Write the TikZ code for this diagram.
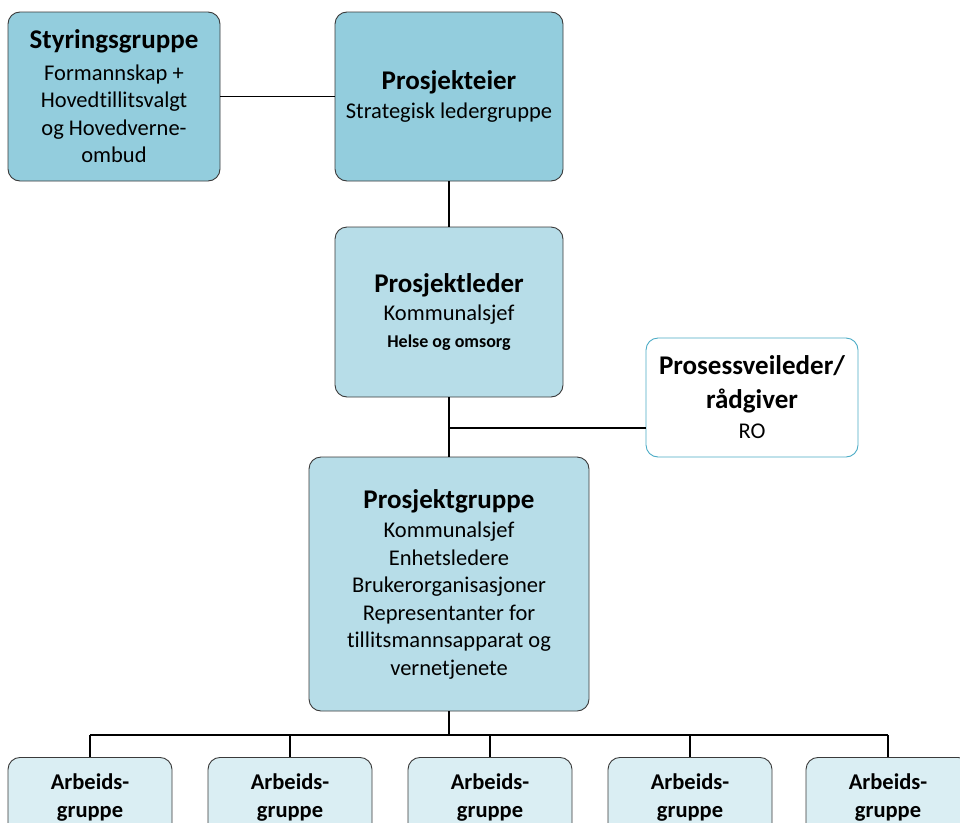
\documentclass[tikz,border=0pt]{standalone}
\usepackage{fontspec}
\setmainfont[Ligatures={NoCommon}]{Carlito}
\definecolor{aquaA}{HTML}{93CDDD}
\definecolor{aquaB}{HTML}{B7DDE8}
\definecolor{aquaC}{HTML}{DAEEF3}
\definecolor{tealB}{HTML}{4BACC6}
\definecolor{edge}{HTML}{3A3A3A}
\tikzset{
  box/.style={draw=edge, line width=0.9pt, rounded corners=12pt, align=center, inner sep=0pt,
    font=\fontsize{22.5}{27.5}\selectfont},
  conn/.style={draw=black, line width=1.2pt},
}
\newcommand{\tl}[1]{{\fontsize{27}{27.5}\selectfont\bfseries #1}}
\begin{document}
\begin{tikzpicture}[x=1pt,y=-1pt]
\useasboundingbox (0,0) rectangle (960,822);
\clip (0,0) rectangle (960,822);
\fill[white] (0,0) rectangle (960,822);
% boxes
\node[box, fill=aquaA, minimum width=212pt, minimum height=169pt] (styr) at (114,96.5)
  {\tl{Styringsgruppe}\\[4pt]Formannskap +\\Hovedtillitsvalgt\\og Hovedverne-\\ombud};
\node[box, fill=aquaA, minimum width=228pt, minimum height=169pt] (eier) at (449,96.5)
  {\tl{Prosjekteier}\\[2pt]Strategisk ledergruppe};
\node[box, fill=aquaB, minimum width=228pt, minimum height=170pt] (leder) at (449,312)
  {\tl{Prosjektleder}\\[1pt]Kommunalsjef\\[-1pt]{\fontsize{18}{20}\selectfont\bfseries Helse og omsorg}};
\node[box, draw=tealB, fill=white, minimum width=212pt, minimum height=119pt] (veil) at (752,397.5)
  {\tl{Prosessveileder/}\\[6pt]\tl{rådgiver}\\[3pt]RO};
\node[box, fill=aquaB, minimum width=280pt, minimum height=254pt] (pgr) at (449,584)
  {\tl{Prosjektgruppe}\\[2pt]Kommunalsjef\\Enhetsledere\\Brukerorganisasjoner\\Representanter for\\tillitsmannsapparat og\\vernetjenete};
\foreach \i/\cx in {1/90,2/290,3/490,4/690,5/888}{
  \node[box, fill=aquaC, minimum width=164pt, minimum height=80pt, anchor=north,
        font=\fontsize{22.5}{28}\selectfont\bfseries] (ag\i) at (\cx,757)
    {Arbeids-\\gruppe};
}
% connectors
\draw[conn] (styr.east) -- (eier.west);
\draw[conn] (eier.south) -- (leder.north);
\draw[conn] (leder.south) -- (pgr.north);
\coordinate (jv) at (449,428);
\draw[conn] (jv) -- (veil.west |- jv);
\coordinate (bus) at (449,735);
\draw[conn, line width=2.2pt] (pgr.south) -- (bus);
\draw[conn] (ag1.north |- bus) -- (ag5.north |- bus);
\foreach \i in {1,...,5}{
  \draw[conn] (ag\i.north |- bus) -- (ag\i.north);
}
\end{tikzpicture}
\end{document}
